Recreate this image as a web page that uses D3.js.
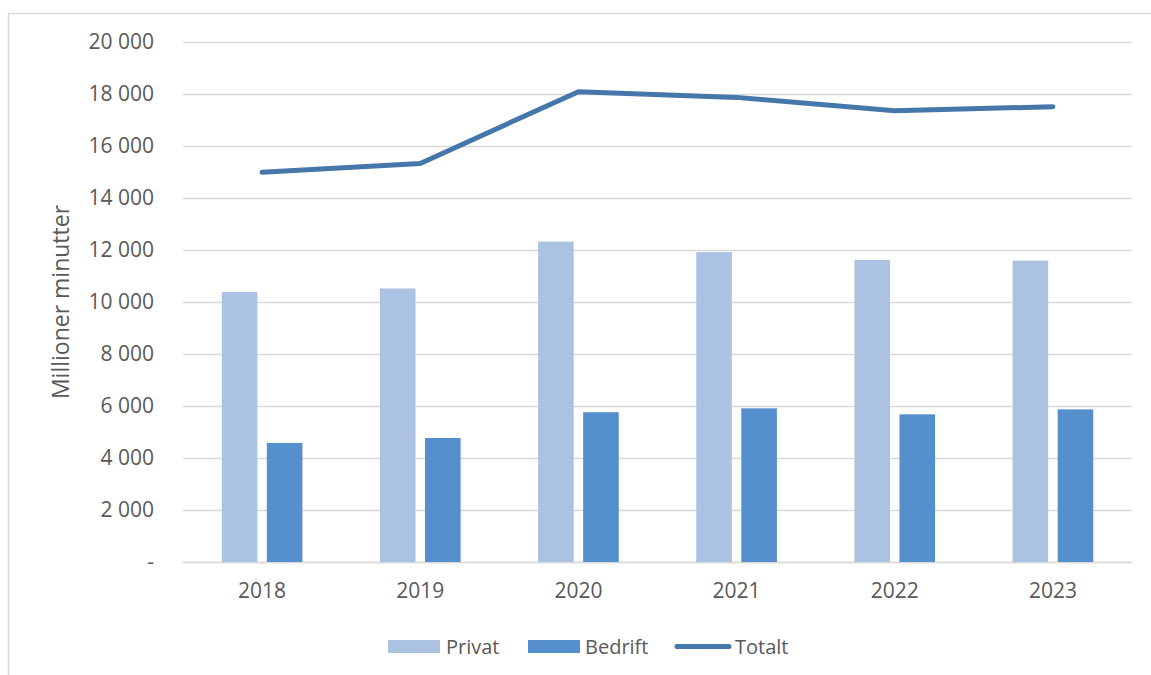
<!DOCTYPE html>
<html>
<head>
<meta charset="utf-8">
<script src="https://cdn.jsdelivr.net/npm/d3@7"></script>
<style>
  html, body { margin: 0; padding: 0; background: #fff; }
  svg { display: block; font-family: "Open Sans", sans-serif; }
</style>
</head>
<body>
<div id="chart"></div>
<script>
// values, millioner minutter
const years = ["2018", "2019", "2020", "2021", "2022", "2023"];
const privat = [10380, 10520, 12320, 11920, 11620, 11590];
const bedrift = [4580, 4770, 5760, 5910, 5680, 5870];
const totalt = [14990, 15330, 18090, 17870, 17360, 17510];
const yTicks = [0, 2000, 4000, 6000, 8000, 10000, 12000, 14000, 16000, 18000, 20000];
const seriesNames = ["Privat", "Bedrift"];

const width = 1151, height = 675;
const margin = { top: 42, right: 19, bottom: 113, left: 183 };
const textColor = "#595959";
const gridColor = "#d9d9d9";
const colors = { Privat: "#abc2e2", Bedrift: "#558fcd", Totalt: "#4677aa" };

const svg = d3.select("#chart").append("svg")
    .attr("width", width)
    .attr("height", height);

// outer chart frame
svg.append("rect")
    .attr("x", 8.5).attr("y", 13.5)
    .attr("width", width).attr("height", height)
    .attr("fill", "none")
    .attr("stroke", gridColor)
    .attr("stroke-width", 1.5);

const x0 = d3.scaleBand().domain(years)
    .range([margin.left, width - margin.right])
    .paddingInner(0.49).paddingOuter(0.245);
const x1 = d3.scaleBand().domain(seriesNames)
    .range([0, x0.bandwidth()])
    .paddingInner(0.21);
const y = d3.scaleLinear().domain([0, 20000])
    .range([height - margin.bottom, margin.top]);

const locale = d3.formatLocale({ decimal: ",", thousands: " ", grouping: [3] });
const fmt = locale.format(",");

// grid + y axis
const yAxis = d3.axisLeft(y).tickValues(yTicks)
    .tickSize(-(width - margin.left - margin.right))
    .tickPadding(29)
    .tickFormat(d => d === 0 ? "-" : fmt(d));
svg.append("g")
    .attr("transform", `translate(${margin.left},0)`)
    .call(yAxis)
    .call(g => g.select(".domain").remove())
    .call(g => g.selectAll(".tick line").attr("stroke", gridColor).attr("stroke-width", 1.3))
    .call(g => g.selectAll(".tick text").attr("fill", textColor).attr("font-size", 21)
        .attr("font-family", "Open Sans"));

// x axis labels
svg.append("g")
    .attr("transform", `translate(0,${y(0)})`)
    .call(d3.axisBottom(x0).tickSize(0).tickPadding(21))
    .call(g => g.select(".domain").attr("stroke", gridColor).attr("stroke-width", 1.5))
    .call(g => g.selectAll(".tick text").attr("fill", textColor).attr("font-size", 21)
        .attr("font-family", "Open Sans"));

// bars
const rows = years.map((yr, i) => ({ year: yr, Privat: privat[i], Bedrift: bedrift[i] }));
svg.append("g").selectAll("g")
    .data(rows).join("g")
    .attr("transform", d => `translate(${x0(d.year)},0)`)
    .selectAll("rect")
    .data(d => seriesNames.map(k => ({ key: k, value: d[k] })))
    .join("rect")
    .attr("x", d => x1(d.key))
    .attr("width", x1.bandwidth())
    .attr("y", d => y(d.value))
    .attr("height", d => y(0) - y(d.value))
    .attr("fill", d => colors[d.key]);

// total line
const line = d3.line()
    .x((d, i) => x0(years[i]) + x0.bandwidth() / 2)
    .y(d => y(d));
svg.append("path")
    .datum(totalt)
    .attr("fill", "none")
    .attr("stroke", colors.Totalt)
    .attr("stroke-width", 5)
    .attr("stroke-linecap", "round")
    .attr("stroke-linejoin", "round")
    .attr("d", line);

// y axis title
svg.append("text")
    .attr("transform", `translate(69,${(y(0) + y(20000)) / 2}) rotate(-90)`)
    .attr("text-anchor", "middle")
    .attr("fill", textColor)
    .attr("font-size", 23)
    .text("Millioner minutter");

// legend
const legY = 646.5;
const legend = svg.append("g");
legend.append("rect").attr("x", 388).attr("y", legY - 6.5).attr("width", 52).attr("height", 13).attr("fill", colors.Privat);
legend.append("text").attr("x", 446).attr("y", legY).attr("dy", "0.35em").attr("fill", textColor).attr("font-size", 20).text("Privat");
legend.append("rect").attr("x", 528).attr("y", legY - 6.5).attr("width", 52).attr("height", 13).attr("fill", colors.Bedrift);
legend.append("text").attr("x", 585).attr("y", legY).attr("dy", "0.35em").attr("fill", textColor).attr("font-size", 20).text("Bedrift");
legend.append("line").attr("x1", 677).attr("x2", 729).attr("y1", legY).attr("y2", legY)
    .attr("stroke", colors.Totalt).attr("stroke-width", 5).attr("stroke-linecap", "round");
legend.append("text").attr("x", 735).attr("y", legY).attr("dy", "0.35em").attr("fill", textColor).attr("font-size", 20).text("Totalt");
</script>
</body>
</html>
